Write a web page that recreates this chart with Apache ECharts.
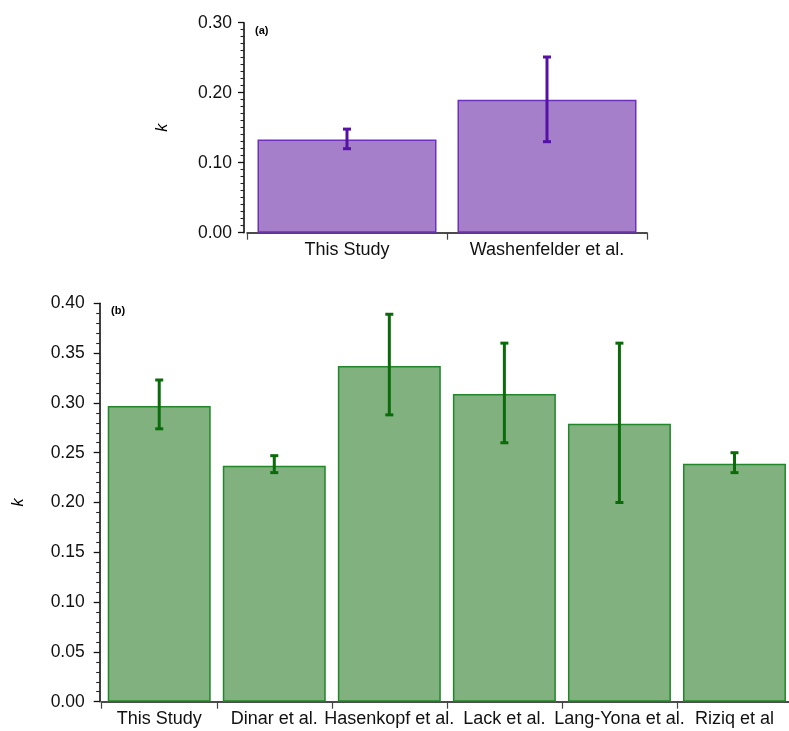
<!DOCTYPE html>
<html>
<head>
<meta charset="utf-8">
<script src="https://cdn.jsdelivr.net/npm/echarts@6/dist/echarts.min.js"></script>
<style>
html,body{margin:0;padding:0;background:#fff;}
#chart{width:789px;height:731px;}
</style>
</head>
<body>
<div id="chart"></div>
<script>
// Panel (a)
const categoriesA = ['This Study', 'Washenfelder et al.'];
const valuesA = [0.133, 0.190];
const errLowA = [0.120, 0.130];
const errHighA = [0.148, 0.251];
const yTicksA = { min: 0, max: 0.30, interval: 0.10 };

// Panel (b)
const categoriesB = ['This Study', 'Dinar et al.', 'Hasenkopf et al.', 'Lack et al.', 'Lang-Yona et al.', 'Riziq et al'];
const valuesB = [0.297, 0.237, 0.337, 0.309, 0.279, 0.239];
const errLowB = [0.274, 0.230, 0.288, 0.260, 0.200, 0.230];
const errHighB = [0.323, 0.247, 0.389, 0.360, 0.360, 0.250];
const yTicksB = { min: 0, max: 0.40, interval: 0.05 };

const font = '"Liberation Sans", Arial, sans-serif';

function errRender(color) {
  return function (params, api) {
    const x = api.value(0);
    const lo = api.coord([x, api.value(1)]);
    const hi = api.coord([x, api.value(2)]);
    const hw = 4;
    const style = { stroke: color, lineWidth: 3 };
    return {
      type: 'group',
      children: [
        { type: 'line', shape: { x1: lo[0], y1: lo[1], x2: hi[0], y2: hi[1] }, style: style },
        { type: 'line', shape: { x1: lo[0] - hw, y1: lo[1], x2: lo[0] + hw, y2: lo[1] }, style: style },
        { type: 'line', shape: { x1: hi[0] - hw, y1: hi[1], x2: hi[0] + hw, y2: hi[1] }, style: style }
      ]
    };
  };
}

function yAxisCfg(gridIndex, t, minorSplit, offset, margin) {
  return {
    type: 'value', gridIndex: gridIndex,
    min: t.min, max: t.max, interval: t.interval,
    offset: offset,
    name: 'k', nameLocation: 'middle', nameGap: 73, nameRotate: 90,
    nameTextStyle: { fontStyle: 'italic', fontSize: 16, color: '#000', fontFamily: font },
    axisLine: { show: true, lineStyle: { color: '#000', width: 1.5 } },
    axisTick: { show: true, inside: false, length: 6, lineStyle: { color: '#111', width: 1.3 } },
    minorTick: { show: true, splitNumber: minorSplit, length: 3.5, lineStyle: { color: '#222', width: 1.1 } },
    splitLine: { show: false },
    axisLabel: { fontSize: 17.5, color: '#111', fontFamily: font, margin: margin,
      formatter: v => v.toFixed(2) }
  };
}

function xAxisCfg(gridIndex, cats) {
  return {
    type: 'category', gridIndex: gridIndex, data: cats,
    offset: 2,
    axisLine: { show: true, lineStyle: { color: '#111', width: 1.5 } },
    axisTick: { show: true, length: 7, lineStyle: { color: '#444', width: 1.2 } },
    axisLabel: { fontSize: 18, color: '#111', fontFamily: font, margin: 6, interval: 0, hideOverlap: false },
    splitLine: { show: false }
  };
}

const chart = echarts.init(document.getElementById('chart'), null, { renderer: 'canvas' });
chart.setOption({
  animation: false,
  backgroundColor: '#ffffff',
  title: [
    { text: '(a)', left: 250, top: 20, textStyle: { fontSize: 11, fontWeight: 'bold', color: '#000', fontFamily: font } },
    { text: '(b)', left: 106, top: 300, textStyle: { fontSize: 11, fontWeight: 'bold', color: '#000', fontFamily: font } }
  ],
  grid: [
    { left: 247, right: 142, top: 22.7, bottom: 498.3, containLabel: false, outerBoundsMode: 'none' },
    { left: 101.7, right: -3, top: 303.3, bottom: 29.3, containLabel: false, outerBoundsMode: 'none' }
  ],
  xAxis: [xAxisCfg(0, categoriesA), xAxisCfg(1, categoriesB)],
  yAxis: [yAxisCfg(0, yTicksA, 10, 3, 12), yAxisCfg(1, yTicksB, 5, 2, 15)],
  series: [
    {
      type: 'bar', xAxisIndex: 0, yAxisIndex: 0, data: valuesA,
      barCategoryGap: '10.5%',
      itemStyle: { color: '#a67fca', borderColor: '#6e30bc', borderWidth: 1.5 }
    },
    {
      type: 'custom', xAxisIndex: 0, yAxisIndex: 0,
      renderItem: errRender('#5510a6'),
      data: categoriesA.map((c, i) => [i, errLowA[i], errHighA[i]]),
      z: 10
    },
    {
      type: 'bar', xAxisIndex: 1, yAxisIndex: 1, data: valuesB,
      barCategoryGap: '10.5%',
      itemStyle: { color: '#80b17f', borderColor: '#22862a', borderWidth: 1.5 }
    },
    {
      type: 'custom', xAxisIndex: 1, yAxisIndex: 1,
      renderItem: errRender('#0b6b0b'),
      data: categoriesB.map((c, i) => [i, errLowB[i], errHighB[i]]),
      z: 10
    }
  ]
});
</script>
</body>
</html>
